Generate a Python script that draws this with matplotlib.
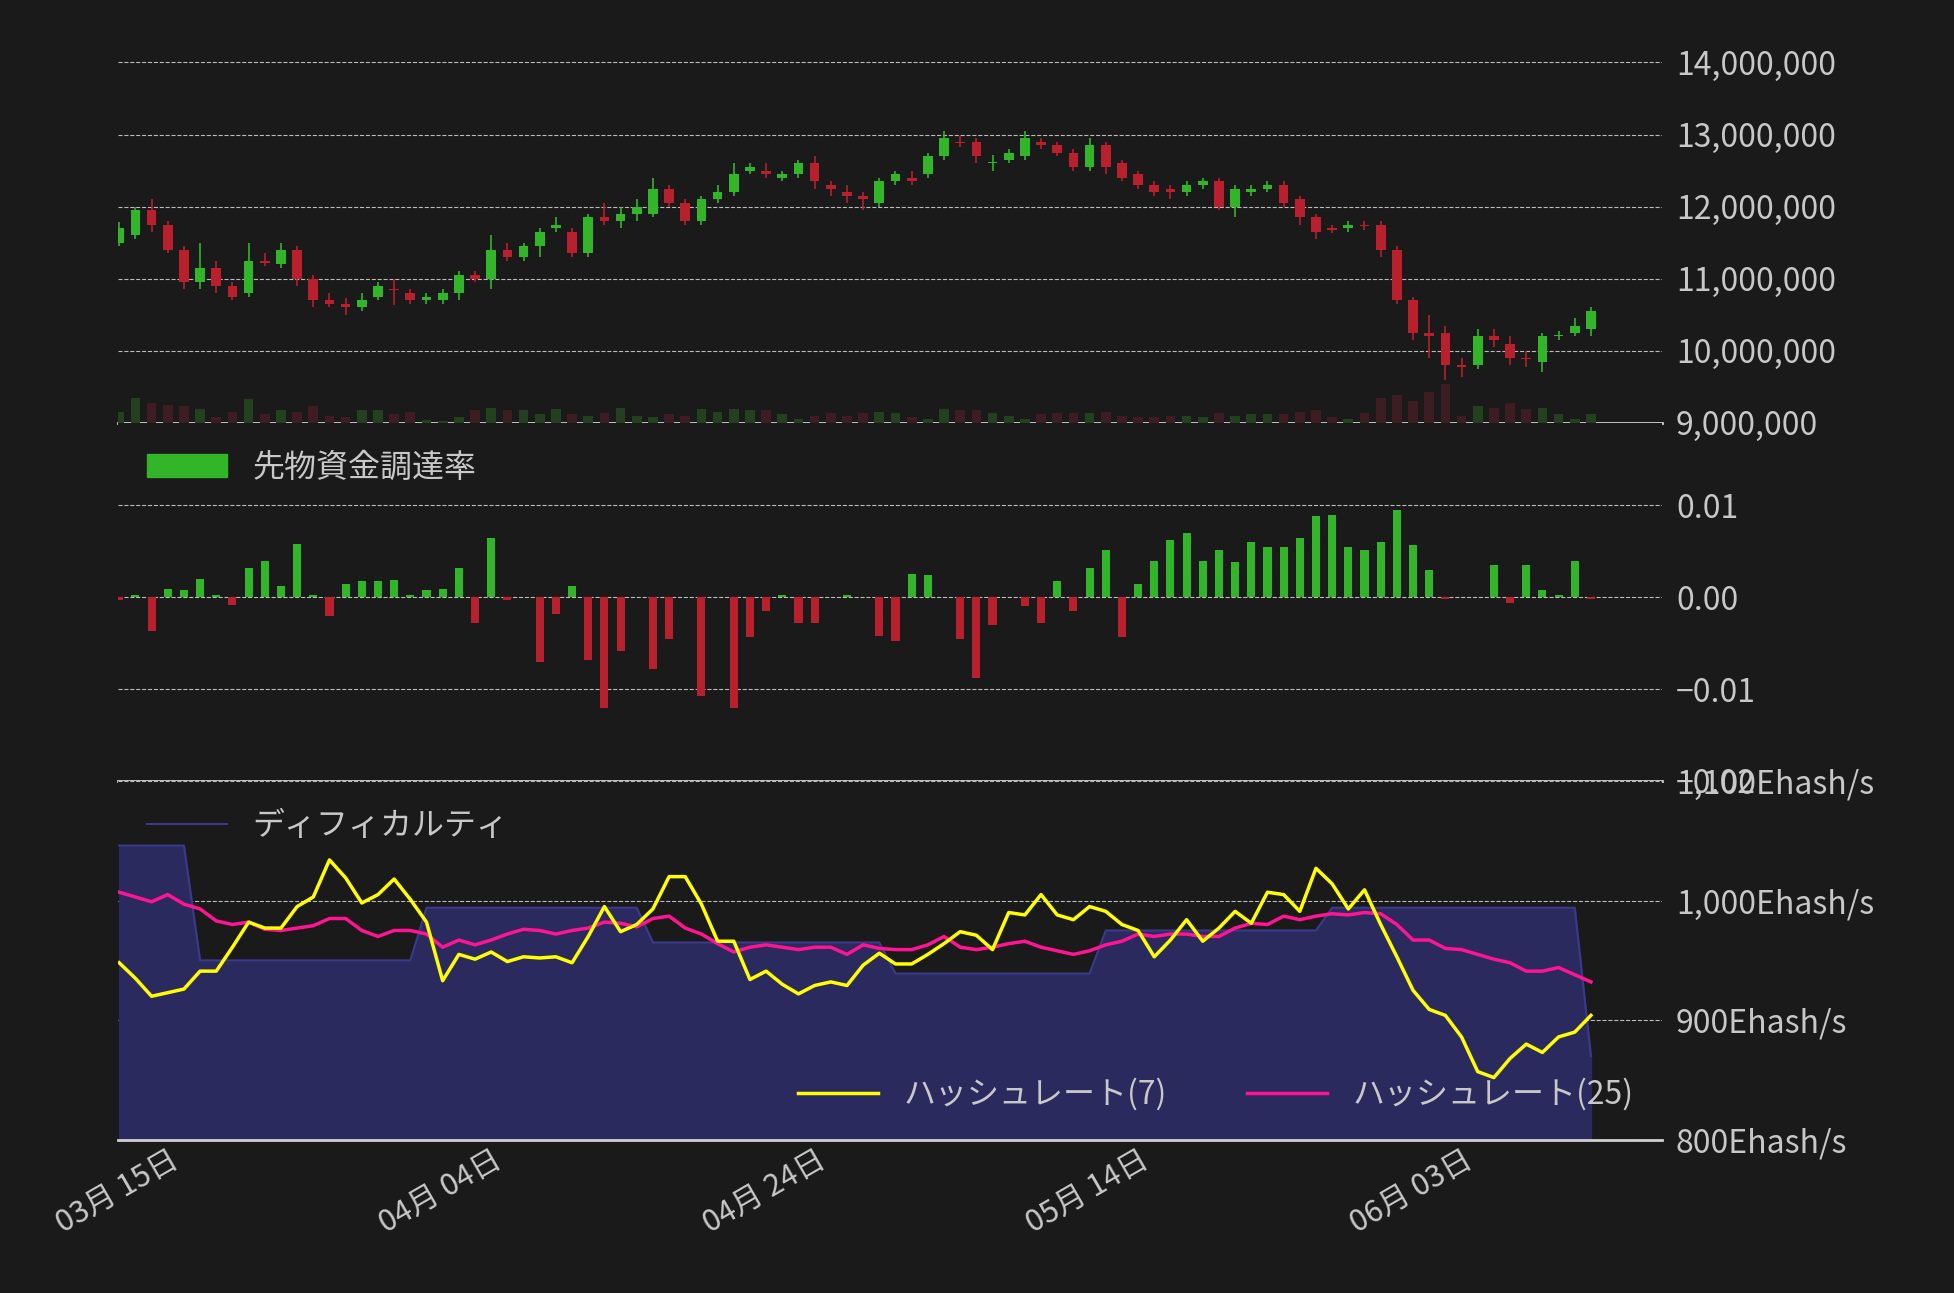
import matplotlib
matplotlib.use('Agg')
import matplotlib.pyplot as plt
import matplotlib.ticker as mticker
import matplotlib.dates as mdates
from matplotlib.patches import Patch
import numpy as np
import pandas as pd

plt.rcParams['font.family'] = ['Noto Sans CJK JP', 'DejaVu Sans']

dates = pd.date_range('2024-03-11', periods=92, freq='D')

# price open / close (million yen)
opens = [11.50, 11.60, 11.95, 11.75, 11.40, 10.95, 11.15, 10.90, 10.80, 11.25, 11.20, 11.40, 11.00, 10.70, 10.65, 10.60,
         10.75, 10.85, 10.80, 10.70, 10.70, 10.80, 11.05, 11.00, 11.40, 11.30, 11.45, 11.70, 11.65, 11.35, 11.85, 11.80,
         11.90, 11.90, 12.25, 12.05, 11.80, 12.10, 12.20, 12.50, 12.50, 12.40, 12.45, 12.60, 12.30, 12.20, 12.15, 12.05,
         12.35, 12.40, 12.45, 12.70, 12.90, 12.90, 12.60, 12.65, 12.70, 12.90, 12.85, 12.75, 12.55, 12.85, 12.60, 12.45,
         12.30, 12.25, 12.20, 12.30, 12.35, 12.00, 12.20, 12.25, 12.30, 12.10, 11.85, 11.70, 11.70, 11.75, 11.75, 11.40,
         10.70, 10.25, 10.25, 9.80, 9.80, 10.20, 10.10, 9.90, 9.85, 10.20, 10.25, 10.30]
closes = [11.70, 11.95, 11.75, 11.40, 10.95, 11.15, 10.90, 10.75, 11.25, 11.22, 11.40, 11.00, 10.70, 10.65, 10.60, 10.70,
          10.90, 10.84, 10.70, 10.75, 10.80, 11.05, 11.00, 11.40, 11.30, 11.45, 11.65, 11.75, 11.35, 11.85, 11.80, 11.90,
          12.00, 12.25, 12.05, 11.80, 12.10, 12.20, 12.45, 12.55, 12.45, 12.45, 12.60, 12.35, 12.25, 12.15, 12.10, 12.35,
          12.45, 12.35, 12.70, 12.95, 12.88, 12.70, 12.62, 12.75, 12.95, 12.85, 12.75, 12.55, 12.85, 12.55, 12.40, 12.30,
          12.20, 12.20, 12.30, 12.35, 12.00, 12.25, 12.25, 12.30, 12.05, 11.85, 11.65, 11.68, 11.75, 11.73, 11.40, 10.70,
          10.25, 10.20, 9.80, 9.78, 10.20, 10.15, 9.90, 9.88, 10.20, 10.22, 10.35, 10.55]
wick_up = [0.08, 0.05, 0.15, 0.05, 0.05, 0.35, 0.1, 0.05, 0.25, 0.1, 0.1, 0.05,
           0.05, 0.1, 0.08, 0.1, 0.05, 0.15, 0.05, 0.05, 0.05, 0.05, 0.05, 0.2, 0.1, 0.05, 0.05, 0.1, 0.05, 0.05, 0.2, 0.1, 0.1,
           0.15, 0.05, 0.05, 0.05, 0.1, 0.15, 0.05, 0.1, 0.05, 0.05, 0.1, 0.05, 0.1, 0.05, 0.05, 0.05, 0.1, 0.05, 0.1, 0.08,
           0.05, 0.1, 0.05, 0.1, 0.05, 0.05, 0.05, 0.1, 0.05, 0.05, 0.05, 0.05, 0.05, 0.05, 0.05, 0.05, 0.05, 0.05, 0.05, 0.05,
           0.05, 0.05, 0.05, 0.05, 0.05, 0.05, 0.05, 0.05, 0.25, 0.1, 0.1, 0.1, 0.1, 0.1, 0.1, 0.05, 0.05, 0.1, 0.05]
wick_dn = [0.05, 0.05, 0.1, 0.05, 0.1, 0.1, 0.1, 0.05, 0.05, 0.05, 0.05, 0.1,
           0.1, 0.05, 0.1, 0.05, 0.05, 0.2, 0.05, 0.05, 0.05, 0.1, 0.05, 0.15, 0.05, 0.05, 0.15, 0.05, 0.05, 0.05, 0.05, 0.1,
           0.1, 0.05, 0.05, 0.05, 0.05, 0.05, 0.05, 0.05, 0.05, 0.05, 0.05, 0.1, 0.1, 0.1, 0.15, 0.05, 0.05, 0.05, 0.05, 0.05,
           0.05, 0.1, 0.1, 0.05, 0.05, 0.05, 0.05, 0.05, 0.05, 0.1, 0.05, 0.05, 0.05, 0.1, 0.05, 0.05, 0.05, 0.15, 0.05, 0.05,
           0.05, 0.1, 0.1, 0.05, 0.05, 0.05, 0.1, 0.05, 0.1, 0.3, 0.2, 0.15, 0.05, 0.1, 0.1, 0.1, 0.15, 0.05, 0.05, 0.1]
volume = [8, 18, 14, 13, 12, 10, 4, 8, 17, 6, 9, 8, 12, 5, 4, 9, 9, 6, 8, 2, 1, 4, 9, 11, 9, 9, 6, 10, 6, 5,
          7, 11, 5, 4, 6, 5, 10, 8, 10, 9, 9, 6, 3, 5, 7, 5, 7, 8, 7, 4, 3, 10, 9, 9, 7, 5, 3, 6, 7, 7,
          7, 8, 5, 4, 4, 5, 5, 4, 7, 5, 6, 6, 6, 8, 9, 4, 3, 7, 18, 20, 16, 22, 28, 5, 12, 11, 14, 10, 11, 6,
          3, 6]

funding = [-0.0003, 0.0002, -0.0037, 0.0009, 0.0008, 0.0020, 0.0002, -0.0008, 0.0032, 0.0040, 0.0012, 0.0058,
           0.0003, -0.0020, 0.0015, 0.0018, 0.0018, 0.0019, 0.0002, 0.0008, 0.0009, 0.0032, -0.0028, 0.0065,
           -0.0003, 0.0, -0.0070, -0.0018, 0.0012, -0.0068, -0.0120, -0.0058, 0.0, -0.0078, -0.0045, 0.0,
           -0.0108, 0.0, -0.0120, -0.0043, -0.0015, 0.0003, -0.0028, -0.0028, 0.0, 0.0002, 0.0, -0.0042,
           -0.0048, 0.0025, 0.0024, 0.0, -0.0045, -0.0088, -0.0030, 0.0, -0.0010, -0.0028, 0.0018, -0.0015,
           0.0032, 0.0052, -0.0043, 0.0015, 0.0040, 0.0062, 0.0070, 0.0040, 0.0052, 0.0038, 0.0060, 0.0055,
           0.0055, 0.0065, 0.0088, 0.0090, 0.0055, 0.0052, 0.0060, 0.0095, 0.0057, 0.0030, -0.0002, 0.0,
           0.0, 0.0035, -0.0006, 0.0035, 0.0008, 0.0003, 0.0040, -0.0002]

difficulty = [1046] * 5 + [950] * 14 + [994] * 14 + [965] * 15 + [939] * 13 + [975] * 14 + [994] * 16 + [870]
hash7 = [948, 935, 920, 923, 926, 941, 941, 961, 982, 977, 977, 995, 1003, 1034, 1019, 998, 1005, 1018, 1001, 982,
         933, 955, 951, 957, 949, 953, 952, 953, 948, 970, 995, 974, 980, 993, 1020, 1020, 997, 966, 966, 934,
         941, 930, 922, 929, 932, 929, 946, 956, 947, 947, 955, 964, 974, 971, 959, 990, 988, 1005, 988, 984,
         995, 991, 980, 975, 953, 967, 984, 966, 977, 991, 981, 1007, 1005, 991, 1027, 1014, 993, 1009, 980, 953,
         925, 909, 904, 886, 857, 852, 868, 880, 873, 886, 890, 904]
hash25 = [1007, 1003, 999, 1005, 997, 993, 983, 980, 982, 976, 975, 977, 979, 985, 985, 975, 970, 975, 975, 972,
          961, 967, 963, 967, 972, 976, 975, 972, 975, 977, 982, 981, 978, 985, 987, 977, 972, 964, 957, 961,
          963, 961, 959, 961, 961, 955, 963, 960, 959, 959, 963, 970, 961, 959, 961, 964, 966, 961, 958, 955,
          958, 963, 966, 972, 970, 972, 972, 970, 970, 977, 981, 980, 987, 984, 987, 989, 988, 990, 989, 980,
          967, 967, 960, 959, 955, 951, 948, 941, 941, 944, 938, 932]
tick_dates = ['2024-03-15', '2024-04-04', '2024-04-24', '2024-05-14', '2024-06-03']

bg = '#1a1a1a'
fg = '#c8c8c8'
green = '#33b52a'
red = '#b8202e'
fs = 23

n = len(dates)
fig = plt.figure(figsize=(19.54, 12.93), dpi=100, facecolor=bg)
left, width = 0.0606, 0.79
ax1 = fig.add_axes([left, 0.673, width, 0.301])
ax2 = fig.add_axes([left, 0.396, width, 0.277], sharex=ax1)
ax3 = fig.add_axes([left, 0.1185, width, 0.2775], sharex=ax1)

x = mdates.date2num(dates)
o = np.array(opens[:n]) * 1e6
c = np.array(closes[:n]) * 1e6
h = np.maximum(o, c) + np.array(wick_up[:n]) * 1e6
l = np.minimum(o, c) - np.array(wick_dn[:n]) * 1e6
up = c >= o
cols = np.where(up, green, red)

# volume on hidden twin axis
axv = ax1.twinx()
axv.set_ylim(0, 280)
axv.axis('off')
axv.bar(x, volume[:n], width=0.6, color=np.where(up, '#23401f', '#3e1d22'))

for ax in (ax1, ax2, ax3):
    ax.set_facecolor(bg)
    for s in ('top', 'left', 'right'):
        ax.spines[s].set_visible(False)
    ax.spines['bottom'].set_color('#d0d0d0')
    ax.spines['bottom'].set_linewidth(2)
    ax.yaxis.tick_right()
    ax.tick_params(axis='y', length=0, labelsize=fs, labelcolor=fg, pad=10)
    ax.tick_params(axis='x', length=0)
    ax.grid(axis='y', color='#bbbbbb', linestyle='--', linewidth=0.8)
    ax.set_axisbelow(True)

ax1.vlines(x, l, h, color=cols, linewidth=1.2, zorder=3)
ax1.bar(x, np.maximum(np.abs(c - o), 15000), bottom=np.minimum(o, c), width=0.6, color=cols, zorder=4)
ax1.set_ylim(9e6, 14.4e6)
ax1.set_yticks(np.arange(9e6, 14.01e6, 1e6))
ax1.yaxis.set_major_formatter(mticker.FuncFormatter(lambda v, p: f'{v:,.0f}'))

fcols = np.where(np.array(funding[:n]) >= 0, green, red)
ax2.bar(x, funding[:n], width=0.5, color=fcols)
ax2.set_ylim(-0.0199, 0.019)
ax2.set_yticks([-0.02, -0.01, 0.0, 0.01])
ax2.yaxis.set_major_formatter(mticker.FuncFormatter(lambda v, p: f'{v:.2f}'.replace('-', '\u2212')))
ax2.legend(handles=[Patch(color=green, label='先物資金調達率')], loc='upper left', frameon=False,
           fontsize=fs, labelcolor=fg, handlelength=2.5, bbox_to_anchor=(0.0, 1.0))

ax3.fill_between(x, difficulty[:n], 800, color='#2a2a5e', zorder=1)
d_line, = ax3.plot(x, difficulty[:n], color='#3a3a8a', linewidth=1.5, zorder=2, label='ディフィカルティ')
l7, = ax3.plot(x, hash7[:n], color='#ffff00', linewidth=2.5, zorder=4, label='ハッシュレート(7)')
l25, = ax3.plot(x, hash25[:n], color='#ff1493', linewidth=2.5, zorder=3, label='ハッシュレート(25)')
ax3.set_ylim(800, 1100)
ax3.set_yticks([800, 900, 1000, 1100])
ax3.yaxis.set_major_formatter(mticker.FuncFormatter(lambda v, p: f'{v:,.0f}Ehash/s'))
lg_a = ax3.legend(handles=[d_line], loc='upper left', frameon=False, fontsize=fs, labelcolor=fg,
                  handlelength=2.5, bbox_to_anchor=(0.0, 1.0))
ax3.add_artist(lg_a)
ax3.legend(handles=[l7, l25], loc='lower right', frameon=False, fontsize=fs, labelcolor=fg, ncol=2,
           handlelength=2.5, columnspacing=2.5, bbox_to_anchor=(1.0, 0.0))

ax1.set_xlim(x[0] - 0.05, x[0] + 95.4)
ax3.set_xticks(mdates.date2num(pd.to_datetime(tick_dates)))
ax3.xaxis.set_major_formatter(mdates.DateFormatter('%m月 %d日'))
plt.setp(ax1.get_xticklabels(), visible=False)
plt.setp(ax2.get_xticklabels(), visible=False)
plt.setp(ax3.get_xticklabels(), rotation=30, ha='right', fontsize=fs - 1, color=fg)

fig.savefig('out.png', dpi=100, facecolor=bg)
